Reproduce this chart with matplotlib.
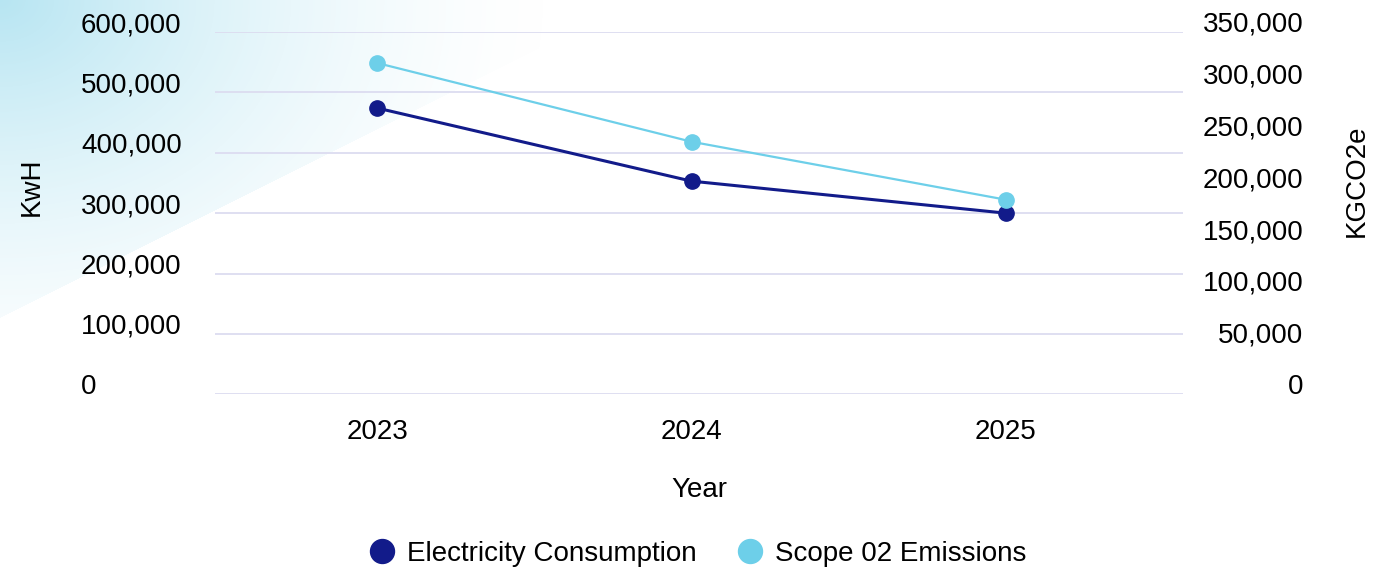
import numpy as np
from matplotlib import pyplot as plt
from matplotlib.ticker import FuncFormatter

plt.rcParams['font.family'] = ['Liberation Sans', 'DejaVu Sans']

years = ['2023', '2024', '2025']
electricity_kwh = [474000, 353000, 300000]
scope2_kgco2e = [320000, 244000, 188000]

kwh_ticks = [0, 100000, 200000, 300000, 400000, 500000, 600000]
co2_ticks = [0, 50000, 100000, 150000, 200000, 250000, 300000, 350000]

NAVY = '#121b8a'
CYAN = '#6dcfe9'
GRID = '#dcdcf0'
FS = 20


def main():
    W, H = 1373, 571
    fig = plt.figure(figsize=(W / 100, H / 100), dpi=100)

    # soft cyan wash in the top-left corner
    bg = fig.add_axes([0, 0, 1, 1], zorder=-1)
    bg.set_axis_off()
    yy, xx = np.mgrid[0:H, 0:W]
    r = np.sqrt((xx / 560.0) ** 2 + (yy / 430.0) ** 2)
    alpha = np.clip(1 - r, 0, 1) ** 1.6
    alpha[yy > 317 - 0.5 * xx] = 0
    img = np.zeros((H, W, 4))
    img[..., 0] = 0.72
    img[..., 1] = 0.90
    img[..., 2] = 0.95
    img[..., 3] = alpha
    bg.imshow(img, extent=(0, W, H, 0), aspect='auto')
    bg.set_xlim(0, W)
    bg.set_ylim(H, 0)

    left, right = 214.7 / W, 1183 / W
    bottom, top = 1 - 394.3 / H, 1 - 32 / H
    ax = fig.add_axes([left, bottom, right - left, top - bottom])
    ax.patch.set_alpha(0)
    ax2 = ax.twinx()

    x = np.arange(len(years))
    ax.plot(x, electricity_kwh, '-o', color=NAVY, lw=2.2, ms=11, zorder=3,
            label='Electricity Consumption')
    ax2.plot(x, scope2_kgco2e, '-o', color=CYAN, lw=1.6, ms=11, zorder=3,
             label='Scope 02 Emissions')

    ax.set_xlim(-0.5175, 2.564)
    ax.set_ylim(0, 600000)
    ax2.set_ylim(0, 350000)
    ax.set_xticks(x, years)
    ax.set_yticks(kwh_ticks)
    ax2.set_yticks(co2_ticks)
    fmt = FuncFormatter(lambda v, p: f'{int(v):,}')
    ax.yaxis.set_major_formatter(fmt)
    ax2.yaxis.set_major_formatter(fmt)

    for a in (ax, ax2):
        for s in a.spines.values():
            s.set_visible(False)
    ax.grid(axis='y', color=GRID, lw=1.3)
    ax.set_axisbelow(True)

    ax.tick_params(axis='x', length=0, pad=18, labelsize=FS)
    ax.tick_params(axis='y', length=0, pad=96.3, labelsize=FS)
    ax2.tick_params(axis='y', length=0, pad=86.6, labelsize=FS)
    for lbl in ax.get_yticklabels():
        lbl.set_ha('left')
        lbl.set_va('baseline')
    for lbl in ax2.get_yticklabels():
        lbl.set_ha('right')
        lbl.set_va('baseline')

    ax.set_ylabel('KwH', fontsize=FS)
    ax.yaxis.set_label_coords(-0.189, 0.572)
    ax2.set_ylabel('KGCO2e', fontsize=FS, rotation=90)
    ax2.yaxis.set_label_coords(1.1797, 0.589)
    ax.set_xlabel('Year', fontsize=FS)
    ax.xaxis.set_label_coords(0.5, -0.264)
    ax.xaxis.label.set_va('center')
    ax.yaxis.label.set_va('center')
    ax2.yaxis.label.set_va('center')

    h1, l1 = ax.get_legend_handles_labels()
    h2, l2 = ax2.get_legend_handles_labels()
    leg = fig.legend(h1 + h2, l1 + l2, loc='center', ncol=2, frameon=False,
                     bbox_to_anchor=(698 / W, 1 - 554 / H), fontsize=FS,
                     handlelength=0.9, handletextpad=0.45, columnspacing=1.5,
                     markerscale=24 / 15.3)
    for h in leg.legend_handles:
        h.set_linestyle('none')

    fig.savefig('out.png', dpi=100)


if __name__ == '__main__':
    main()
